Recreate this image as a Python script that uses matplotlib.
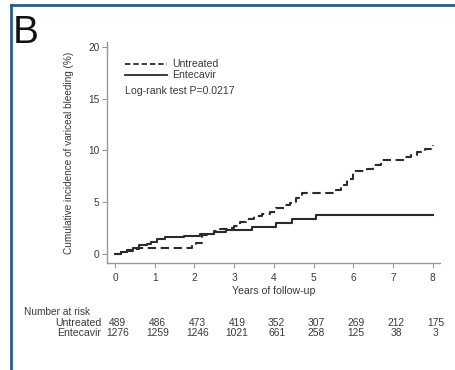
import numpy as np
import matplotlib.pyplot as plt
from matplotlib.lines import Line2D

plt.rcParams['font.family'] = ['Liberation Sans', 'DejaVu Sans']

# Kaplan-Meier style cumulative incidence (%)
untreated_t = [0, 0.15, 0.3, 0.45, 0.6, 0.75, 1.95, 2.05, 2.2, 2.35, 2.5, 2.65,
               2.85, 3.0, 3.15, 3.3, 3.5, 3.7, 3.9, 4.05, 4.25, 4.4, 4.55, 4.7,
               5.55, 5.7, 5.85, 6.0, 6.35, 6.5, 6.7, 7.3, 7.45, 7.6, 7.8, 7.95, 8.0]
untreated_y = [0, 0.2, 0.35, 0.5, 0.6, 0.65, 0.9, 1.1, 1.9, 2.0, 2.2, 2.4,
               2.5, 2.75, 3.1, 3.4, 3.7, 3.9, 4.1, 4.5, 4.7, 4.95, 5.4, 5.9,
               6.2, 6.7, 7.3, 8.0, 8.2, 8.6, 9.1, 9.4, 9.6, 9.9, 10.1, 10.4, 10.5]

entecavir_t = [0, 0.15, 0.3, 0.45, 0.6, 0.8, 0.9, 1.05, 1.25, 1.75, 2.15, 2.5,
               2.8, 3.45, 4.05, 4.45, 5.05, 8.0]
entecavir_y = [0, 0.2, 0.4, 0.6, 0.85, 1.0, 1.2, 1.45, 1.7, 1.8, 1.95, 2.1,
               2.35, 2.65, 3.05, 3.4, 3.75, 3.75]

years = [0, 1, 2, 3, 4, 5, 6, 7, 8]
risk_untreated = [489, 486, 473, 419, 352, 307, 269, 212, 175]
risk_entecavir = [1276, 1259, 1246, 1021, 661, 258, 125, 38, 3]

W, H = 455, 370
fig = plt.figure(figsize=(W / 100, H / 100), dpi=100)
ax = fig.add_axes([107 / W, 1 - 263 / H, (440 - 107) / W, (263 - 42) / H])

txt = '#3a3a3a'
ln = '#2b2b2b'

ax.step(untreated_t, untreated_y, where='post', color=ln, lw=1.5,
        linestyle=(0, (4, 2.2)))
ax.step(entecavir_t, entecavir_y, where='post', color=ln, lw=1.5)

ax.set_xlim(-0.2, 8.18)
ax.set_ylim(-0.84, 20.45)
ax.set_xticks(years)
ax.set_yticks([0, 5, 10, 15, 20])
for s in ['top', 'right']:
    ax.spines[s].set_visible(False)
for s in ['left', 'bottom']:
    ax.spines[s].set_color('#999999')
    ax.spines[s].set_linewidth(1.0)
ax.tick_params(colors='#999999', labelcolor=txt, labelsize=7.3, length=3.5, width=0.8)
ax.tick_params(axis='x', pad=4)
ax.tick_params(axis='y', pad=2)
ax.set_xlabel('Years of follow-up', fontsize=7.6, color=txt, labelpad=2)
ax.set_ylabel('Cumulative incidence of variceal bleeding (%)', fontsize=7.2,
              color=txt, labelpad=10)

# legend drawn by hand
ax.add_line(Line2D([0.25, 1.3], [18.3, 18.3], color=ln, lw=1.3, linestyle=(0, (3, 1.6))))
ax.add_line(Line2D([0.25, 1.3], [17.25, 17.25], color=ln, lw=1.3))
ax.text(1.45, 18.3, 'Untreated', fontsize=7.6, color=txt, va='center')
ax.text(1.45, 17.25, 'Entecavir', fontsize=7.6, color=txt, va='center')
ax.text(0.25, 15.7, 'Log-rank test P=0.0217', fontsize=7.6, color=txt, va='center')

# number at risk table
tr = ax.get_xaxis_transform()
fig.text(24 / W, 1 - 312 / H, 'Number at risk', fontsize=7.3, color=txt, va='center')
fig.text(101 / W, 1 - 323 / H, 'Untreated', fontsize=7.6, color=txt, va='center', ha='right')
fig.text(101 / W, 1 - 333 / H, 'Entecavir', fontsize=7.6, color=txt, va='center', ha='right')
yu = -(323 - 263) / (263 - 42)
ye = -(333 - 263) / (263 - 42)
for x, a, b in zip(years, risk_untreated, risk_entecavir):
    ax.text(x + 0.07, yu, str(a), transform=tr, fontsize=7.4, color=txt,
            ha='center', va='center', clip_on=False)
    ax.text(x + 0.07, ye, str(b), transform=tr, fontsize=7.4, color=txt,
            ha='center', va='center', clip_on=False)

fig.text(13 / W, 1 - 33 / H, 'B', fontsize=28, color='#111111', va='center', ha='left')

# blue frame on left and top
blue = '#2c5a8c'
fig.add_artist(Line2D([11 / W, 11 / W], [0, 1 - 5 / H], color=blue, lw=2))
fig.add_artist(Line2D([11 / W, 1], [1 - 5 / H, 1 - 5 / H], color=blue, lw=2))

fig.savefig('out.png', dpi=100)
